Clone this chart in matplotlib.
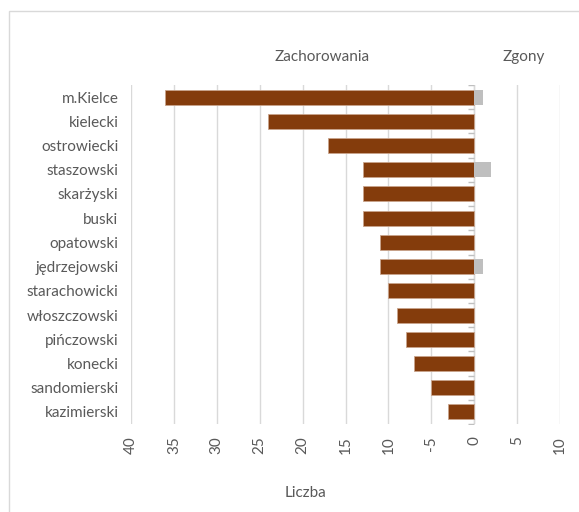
import matplotlib.pyplot as plt
import matplotlib.markers as mk
import numpy as np
from matplotlib.patches import Rectangle

powiaty = ["m.Kielce", "kielecki", "ostrowiecki", "staszowski", "skarżyski", "buski",
           "opatowski", "jędrzejowski", "starachowicki", "włoszczowski", "pińczowski",
           "konecki", "sandomierski", "kazimierski"]
zachorowania = [36, 24, 17, 13, 13, 13, 11, 11, 10, 9, 8, 7, 5, 3]
zgony = [1, 0, 0, 2, 0, 0, 0, 1, 0, 0, 0, 0, 0, 0]
xticks = [-40, -35, -30, -25, -20, -15, -10, -5, 0, 5, 10]
xlabels = ["40", "35", "30", "25", "20", "15", "10", "-5", "0", "5", "10"]

plt.rcParams['font.family'] = ['Lato', 'DejaVu Sans']
txt = '#595959'
grid = '#D9D9D9'
fs = 11

fig = plt.figure(figsize=(5.79, 5.12), dpi=100)
ax = fig.add_axes([131 / 579, 1 - 424 / 512, 429 / 579, 339 / 512])

y = np.arange(len(powiaty))
ax.barh(y, -np.array(zachorowania), height=0.62, color='#843C0C', edgecolor='#C9A48C', linewidth=0.6, zorder=3)
ax.barh(y, zgony, height=0.62, color='#BFBFBF', zorder=3)

ax.set_xlim(-40, 10)
ax.set_ylim(len(powiaty) - 0.5, -0.5)
ax.set_xticks(xticks)
ax.set_xticklabels(xlabels, rotation=90, fontsize=fs, color=txt)
ax.set_yticks(y)
ax.set_yticklabels(powiaty, fontsize=fs, color=txt)
ax.tick_params(axis='both', length=0)
ax.tick_params(axis='y', pad=9)
ax.tick_params(axis='x', pad=9)
for s in ax.spines.values():
    s.set_visible(False)
ax.grid(axis='x', color=grid, linewidth=1, zorder=0)

# axis line at zero with small ticks between categories
ax.axvline(0, color=grid, linewidth=1, zorder=2)
b = np.arange(len(powiaty) + 1) - 0.5
ax.plot([0] * len(b), b, ls='none', marker=mk.TICKLEFT, markersize=4, color='#BFBFBF', zorder=2)

fig.text(322 / 579, 1 - 57 / 512, "Zachorowania", ha='center', va='center', fontsize=fs, color=txt)
fig.text(524 / 579, 1 - 57 / 512, "Zgony", ha='center', va='center', fontsize=fs, color=txt)
fig.text(305 / 579, 1 - 493 / 512, "Liczba", ha='center', va='center', fontsize=fs, color=txt)

fig.patches.append(Rectangle((9 / 579, -0.1), 1.2, 1 - 11 / 512 + 0.1, transform=fig.transFigure,
                             fill=False, edgecolor=grid, linewidth=1))

fig.savefig('out.png', dpi=100)
